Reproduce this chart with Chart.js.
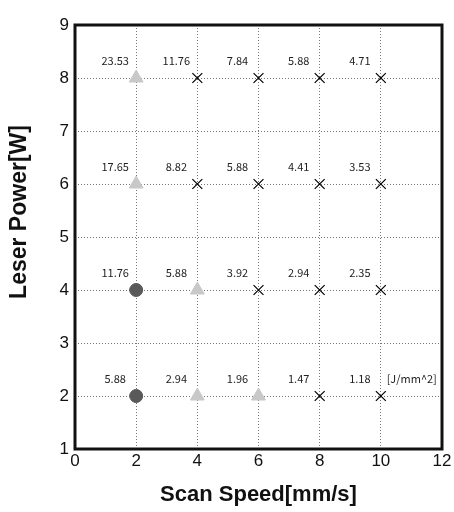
<!DOCTYPE html>
<html>
<head>
<meta charset="utf-8">
<script src="https://cdn.jsdelivr.net/npm/chart.js@4.4.1/dist/chart.umd.min.js"></script>
<style>
  html, body { margin: 0; padding: 0; background: #fff; }
  #wrap { width: 454px; height: 512px; }
</style>
</head>
<body>
<div id="wrap"><canvas id="chart"></canvas></div>
<script>
// scan speed [mm/s], laser power [W]
const circlePoints = [[2, 4], [2, 2]];
const trianglePoints = [[2, 8], [2, 6], [4, 4], [4, 2], [6, 2]];
const crossPoints = [
  [4, 8], [6, 8], [8, 8], [10, 8],
  [4, 6], [6, 6], [8, 6], [10, 6],
  [6, 4], [8, 4], [10, 4],
  [8, 2], [10, 2],
];

// energy density [J/mm^2] at each grid point
const speeds = [2, 4, 6, 8, 10];
const powers = [8, 6, 4, 2];
const energy = [
  ["23.53", "11.76", "7.84", "5.88", "4.71"],
  ["17.65", "8.82", "5.88", "4.41", "3.53"],
  ["11.76", "5.88", "3.92", "2.94", "2.35"],
  ["5.88", "2.94", "1.96", "1.47", "1.18"],
];
const unitLabel = "[J/mm^2]";
const yTitle = "Leser Power[W]";

const toXY = (arr) => arr.map(([x, y]) => ({ x, y }));

const energyLabels = {
  id: "energyLabels",
  afterDatasetsDraw(chart) {
    const { ctx, scales: { x, y } } = chart;
    ctx.save();
    ctx.font = "11px 'Noto Sans CJK JP', 'DejaVu Sans'";
    ctx.fillStyle = "#222";
    ctx.textAlign = "center";
    ctx.textBaseline = "middle";
    powers.forEach((p, i) => {
      speeds.forEach((s, j) => {
        const px = x.getPixelForValue(s);
        const py = y.getPixelForValue(p);
        ctx.fillText(energy[i][j], px - 21, py - 17);
      });
    });
    ctx.textAlign = "left";
    const lastX = x.getPixelForValue(speeds[speeds.length - 1]);
    const lastY = y.getPixelForValue(powers[powers.length - 1]);
    ctx.fillText(unitLabel, lastX + 6, lastY - 17);
    ctx.restore();
  },
};

// border + y title (the original title sits a bit above the middle)
const frame = {
  id: "frame",
  afterDraw(chart) {
    const { ctx, chartArea: { left, top, width, height } } = chart;
    ctx.save();
    ctx.strokeStyle = "#111";
    ctx.lineWidth = 3;
    ctx.strokeRect(left, top, width, height);

    ctx.translate(20, top + height / 2 - 25);
    ctx.rotate(-Math.PI / 2);
    ctx.font = "bold 23px 'Liberation Sans', Arial";
    ctx.fillStyle = "#111";
    ctx.textAlign = "center";
    ctx.textBaseline = "middle";
    ctx.fillText(yTitle, 0, 0);
    ctx.restore();
  },
};

const config = {
  type: "scatter",
  data: {
    datasets: [
      {
        data: toXY(trianglePoints),
        pointStyle: "triangle",
        pointRadius: 8,
        backgroundColor: "#c8c8c8",
        borderColor: "#c8c8c8",
        borderWidth: 1,
      },
      {
        data: toXY(circlePoints),
        pointStyle: "circle",
        pointRadius: 6.5,
        backgroundColor: "#595959",
        borderColor: "#595959",
        borderWidth: 1,
      },
      {
        data: toXY(crossPoints),
        pointStyle: "crossRot",
        pointRadius: 7,
        backgroundColor: "#000",
        borderColor: "#000",
        borderWidth: 1.2,
      },
    ],
  },
  options: {
    responsive: true,
    maintainAspectRatio: false,
    animation: false,
    events: [],
    layout: { padding: { left: 0, right: 12, top: 25, bottom: 0 } },
    plugins: {
      legend: { display: false },
      tooltip: { enabled: false },
    },
    scales: {
      x: {
        type: "linear",
        min: 0,
        max: 12,
        afterFit(scale) { scale.height = 63; },
        ticks: {
          stepSize: 2,
          color: "#111",
          font: { family: "Liberation Sans, Arial", size: 17 },
          padding: 2,
        },
        grid: {
          color: "#777",
          drawTicks: false,
        },
        border: { display: false, dash: [1, 2] },
        title: {
          display: true,
          text: "Scan Speed[mm/s]",
          color: "#111",
          font: { family: "Liberation Sans, Arial", size: 22, weight: "bold" },
          padding: { top: 10 },
        },
      },
      y: {
        type: "linear",
        min: 1,
        max: 9,
        afterFit(scale) { scale.width = 75; },
        ticks: {
          stepSize: 1,
          color: "#111",
          font: { family: "Liberation Sans, Arial", size: 17 },
          padding: 6,
        },
        grid: {
          color: "#777",
          drawTicks: false,
        },
        border: { display: false, dash: [1, 2] },
      },
    },
  },
  plugins: [energyLabels, frame],
};

new Chart(document.getElementById("chart"), config);
</script>
</body>
</html>
